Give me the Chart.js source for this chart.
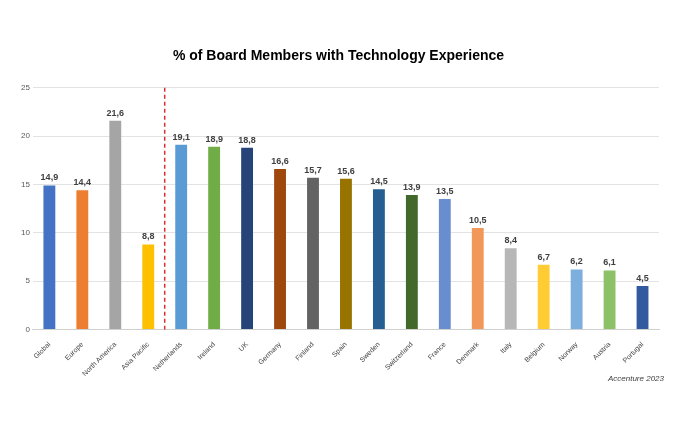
<!DOCTYPE html>
<html><head><meta charset="utf-8">
<script src="https://cdn.jsdelivr.net/npm/chart.js@4/dist/chart.umd.min.js"></script>
<style>body{margin:0;background:#fff}#wrap{width:675px;height:427px;position:relative}</style>
</head><body><div id="wrap"><canvas id="c"></canvas></div>
<script>
const categories = ['Global','Europe','North America','Asia Pacific','Netherlands','Ireland','UK','Germany','Finland','Spain','Sweden','Switzerland','France','Denmark','Italy','Belgium','Norway','Austria','Portugal'];
const values = [14.9,14.4,21.6,8.8,19.1,18.9,18.8,16.6,15.7,15.6,14.5,13.9,13.5,10.5,8.4,6.7,6.2,6.1,4.5];
const colors = ['#4472C4','#ED7D31','#A5A5A5','#FFC000','#5B9BD5','#70AD47','#264478','#9E480E','#636363','#997300','#255E91','#43682B','#698ED0','#F1975A','#B7B7B7','#FFCD33','#7CAFDD','#8CC168','#335AA1'];

const extras = {
  id: 'extras',
  afterDatasetsDraw(chart) {
    const ctx = chart.ctx;
    const meta = chart.getDatasetMeta(0);
    ctx.save();
    ctx.font = 'bold 9px "Liberation Sans", Arial';
    ctx.fillStyle = '#404040';
    ctx.textAlign = 'center';
    ctx.textBaseline = 'bottom';
    meta.data.forEach((bar, i) => {
      ctx.fillText(values[i].toFixed(1).replace('.', ','), bar.x, bar.y - 3);
    });
    const x = (meta.data[3].x + meta.data[4].x) / 2;
    const area = chart.chartArea;
    ctx.strokeStyle = '#D9302B';
    ctx.lineWidth = 1.5;
    ctx.setLineDash([4, 3]);
    ctx.beginPath();
    ctx.moveTo(x, area.top);
    ctx.lineTo(x, area.bottom);
    ctx.stroke();
    ctx.setLineDash([]);
    ctx.font = 'italic 8px "Liberation Sans", Arial';
    ctx.fillStyle = '#404040';
    ctx.textAlign = 'right';
    ctx.textBaseline = 'middle';
    ctx.fillText('Accenture 2023', 664, 379);
    ctx.restore();
  }
};

new Chart(document.getElementById('c').getContext('2d'), {
  type: 'bar',
  data: {
    labels: categories,
    datasets: [{ data: values, backgroundColor: colors, barPercentage: 0.36, categoryPercentage: 1 }]
  },
  options: {
    responsive: true,
    maintainAspectRatio: false,
    animation: false,
    layout: { padding: { left: 18, right: 16, top: 0, bottom: 46 } },
    plugins: {
      legend: { display: false },
      tooltip: { enabled: false },
      title: {
        display: true,
        text: '% of Board Members with Technology Experience',
        font: { family: '"Liberation Sans", Arial', size: 14, weight: 'bold' },
        color: '#000',
        padding: { top: 48, bottom: 23 }
      }
    },
    scales: {
      y: {
        min: 0, max: 25,
        ticks: { stepSize: 5, color: '#595959', font: { size: 8, family: '"Liberation Sans", Arial' } },
        grid: { color: '#E3E3E3', drawTicks: false },
        border: { display: false }
      },
      x: {
        ticks: { color: '#404040', maxRotation: 45, minRotation: 45, font: { size: 7, family: '"Liberation Sans", Arial' } },
        grid: { display: false },
        border: { color: '#D0D0D0' }
      }
    }
  },
  plugins: [extras]
});
</script></body></html>
